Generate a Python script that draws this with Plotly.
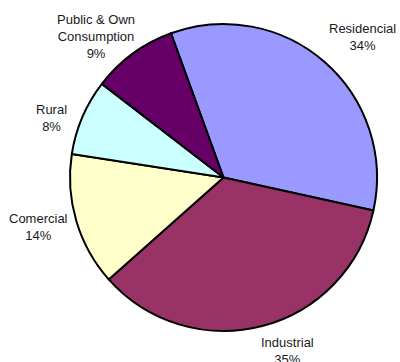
import math
import plotly.graph_objects as go

# Electricity consumption by sector (share of total, %)
sectors = ["Residencial", "Industrial", "Comercial", "Rural", "Public & Own<br>Consumption"]
shares = [34, 35, 14, 8, 9]
colors = ["#9999FF", "#993366", "#FFFFCC", "#CCFFFF", "#660066"]

W, H = 400, 362
ROTATION = -20  # first slice starts just left of 12 o'clock
CX, CY, R = 223.5, 177.5, 153.5  # pie centre and radius in pixels

# label placement: radial distance factor plus small pixel nudges
LABEL_RADIUS = 1.22
label_nudge = [(16, 0), (17, -8), (-5, -3), (0, 14), (-17, 10)]

fig = go.Figure(
    go.Pie(
        labels=sectors,
        values=shares,
        sort=False,
        direction="clockwise",
        rotation=ROTATION,
        marker=dict(colors=colors, line=dict(color="#000000", width=2)),
        textinfo="none",
        hoverinfo="label+percent",
        showlegend=False,
        domain=dict(
            x=[(CX - R) / W, (CX + R) / W],
            y=[(H - CY - R) / H, (H - CY + R) / H],
        ),
    )
)

total = sum(shares)
start = ROTATION
annotations = []
for name, val, (nx, ny) in zip(sectors, shares, label_nudge):
    span = 360.0 * val / total
    mid = math.radians(start + span / 2)
    start += span
    px = CX + LABEL_RADIUS * R * math.sin(mid) + nx
    py = CY - LABEL_RADIUS * R * math.cos(mid) + ny
    pct = round(100.0 * val / total)
    annotations.append(
        dict(
            x=px / W,
            y=1 - py / H,
            xref="paper",
            yref="paper",
            text=f"{name}<br>{pct}%",
            showarrow=False,
            xanchor="center",
            yanchor="middle",
            align="center",
            font=dict(family="Arial, Liberation Sans, sans-serif", size=13, color="#1a1a1a"),
        )
    )

fig.update_layout(
    width=W,
    height=H,
    margin=dict(l=0, r=0, t=0, b=0),
    paper_bgcolor="white",
    plot_bgcolor="white",
    annotations=annotations,
)

fig.write_html("out.html")
